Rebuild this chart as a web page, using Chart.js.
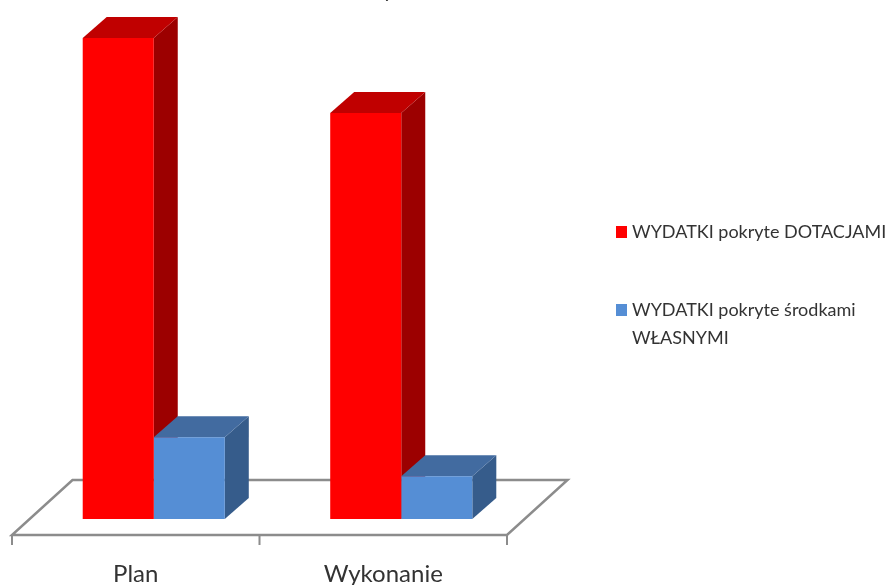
<!DOCTYPE html>
<html>
<head>
<meta charset="utf-8">
<style>
  html, body { margin: 0; padding: 0; background: #fff; overflow: hidden; }
  canvas { display: block; }
</style>
<script src="https://cdn.jsdelivr.net/npm/chart.js@4"></script>
</head>
<body>
<canvas id="chart" width="888" height="585"></canvas>
<script>
const categories = ['Plan', 'Wykonanie'];
const dotacje = [100, 84.4];
const wlasne = [17, 8.9];
const seriesNames = ['WYDATKI pokryte DOTACJAMI', 'WYDATKI pokryte środkami WŁASNYMI'];
const legendLines = [['WYDATKI pokryte DOTACJAMI'], ['WYDATKI pokryte środkami', 'WŁASNYMI']];
const croppedTitle = 'y';

const fontFamily = 'Lato, "Open Sans", sans-serif';
const textColor = '#333333';
const axisColor = '#8c8c8c';

// colours of the front, top and side face of each series
const faces = [
  { front: '#ff0000', top: '#c00000', side: '#9c0000' },
  { front: '#558ed5', top: '#426ba0', side: '#365c8b' }
];

function poly(ctx, pts, fill) {
  ctx.beginPath();
  ctx.moveTo(pts[0][0], pts[0][1]);
  for (let i = 1; i < pts.length; i++) ctx.lineTo(pts[i][0], pts[i][1]);
  ctx.closePath();
  ctx.fillStyle = fill;
  ctx.fill();
}

// floor and the depth faces of the bars, the fronts come from Chart.js
const bars3d = {
  id: 'bars3d',
  beforeDatasetsDraw(chart) {
    const ctx = chart.ctx;
    const xScale = chart.scales.x;
    const base = chart.scales.y.getPixelForValue(0);
    const shift = 18;
    const left = xScale.left - shift;
    const right = xScale.right - shift;
    const front = base + 16;
    const back = base - 39;
    const skew = 60.5;

    ctx.save();
    ctx.strokeStyle = axisColor;
    ctx.lineWidth = 2.5;
    ctx.lineJoin = 'miter';
    ctx.beginPath();
    ctx.moveTo(left, front);
    ctx.lineTo(right, front);
    ctx.lineTo(right + skew, back);
    ctx.lineTo(left + skew, back);
    ctx.closePath();
    ctx.stroke();
    // tick marks between the categories
    ctx.lineWidth = 2;
    ctx.beginPath();
    for (const x of [left, (left + right) / 2, right]) {
      ctx.moveTo(x, front);
      ctx.lineTo(x, front + 10);
    }
    ctx.stroke();

    const dx = 24;
    const dy = -21;
    chart.data.datasets.forEach((ds, i) => {
      chart.getDatasetMeta(i).data.forEach(bar => {
        const l = bar.x - bar.width / 2;
        const r = bar.x + bar.width / 2;
        poly(ctx, [[r, bar.y], [r + dx, bar.y + dy], [r + dx, bar.base + dy], [r, bar.base]], faces[i].side);
        poly(ctx, [[l, bar.y], [l + dx, bar.y + dy], [r + dx, bar.y + dy], [r, bar.y]], faces[i].top);
      });
    });
    ctx.restore();
  },
  afterDraw(chart) {
    const ctx = chart.ctx;
    ctx.save();
    ctx.font = '18px ' + fontFamily;
    ctx.textBaseline = 'middle';
    ctx.textAlign = 'left';
    const rows = [{ y: 232, step: 0 }, { y: 310, step: 28 }];
    legendLines.forEach((lines, i) => {
      ctx.fillStyle = faces[i].front;
      ctx.fillRect(616, rows[i].y - 6, 11, 12);
      ctx.fillStyle = textColor;
      lines.forEach((line, n) => ctx.fillText(line, 632, rows[i].y + n * rows[i].step));
    });
    // title is cut by the top of the picture, only this tail shows
    ctx.font = '22px ' + fontFamily;
    ctx.textBaseline = 'alphabetic';
    ctx.fillText(croppedTitle, 383, -3);
    ctx.restore();
  }
};

new Chart(document.getElementById('chart'), {
  type: 'bar',
  data: {
    labels: categories,
    datasets: [
      { label: seriesNames[0], data: dotacje, backgroundColor: faces[0].front },
      { label: seriesNames[1], data: wlasne, backgroundColor: faces[1].front }
    ]
  },
  options: {
    responsive: false,
    animation: false,
    layout: { padding: { left: 30, right: 363, top: 14, bottom: 0 } },
    datasets: { bar: { categoryPercentage: 0.574, barPercentage: 1 } },
    plugins: { legend: { display: false }, tooltip: { enabled: false }, title: { display: false } },
    scales: {
      x: {
        grid: { display: false },
        border: { display: false },
        afterFit(scale) { scale.height = 66; },
        ticks: {
          color: textColor,
          font: { family: fontFamily, size: 24 },
          padding: 33,
          labelOffset: -18,
          maxRotation: 0
        }
      },
      y: { display: false, min: 0, max: 105 }
    }
  },
  plugins: [bars3d]
});
</script>
</body>
</html>
